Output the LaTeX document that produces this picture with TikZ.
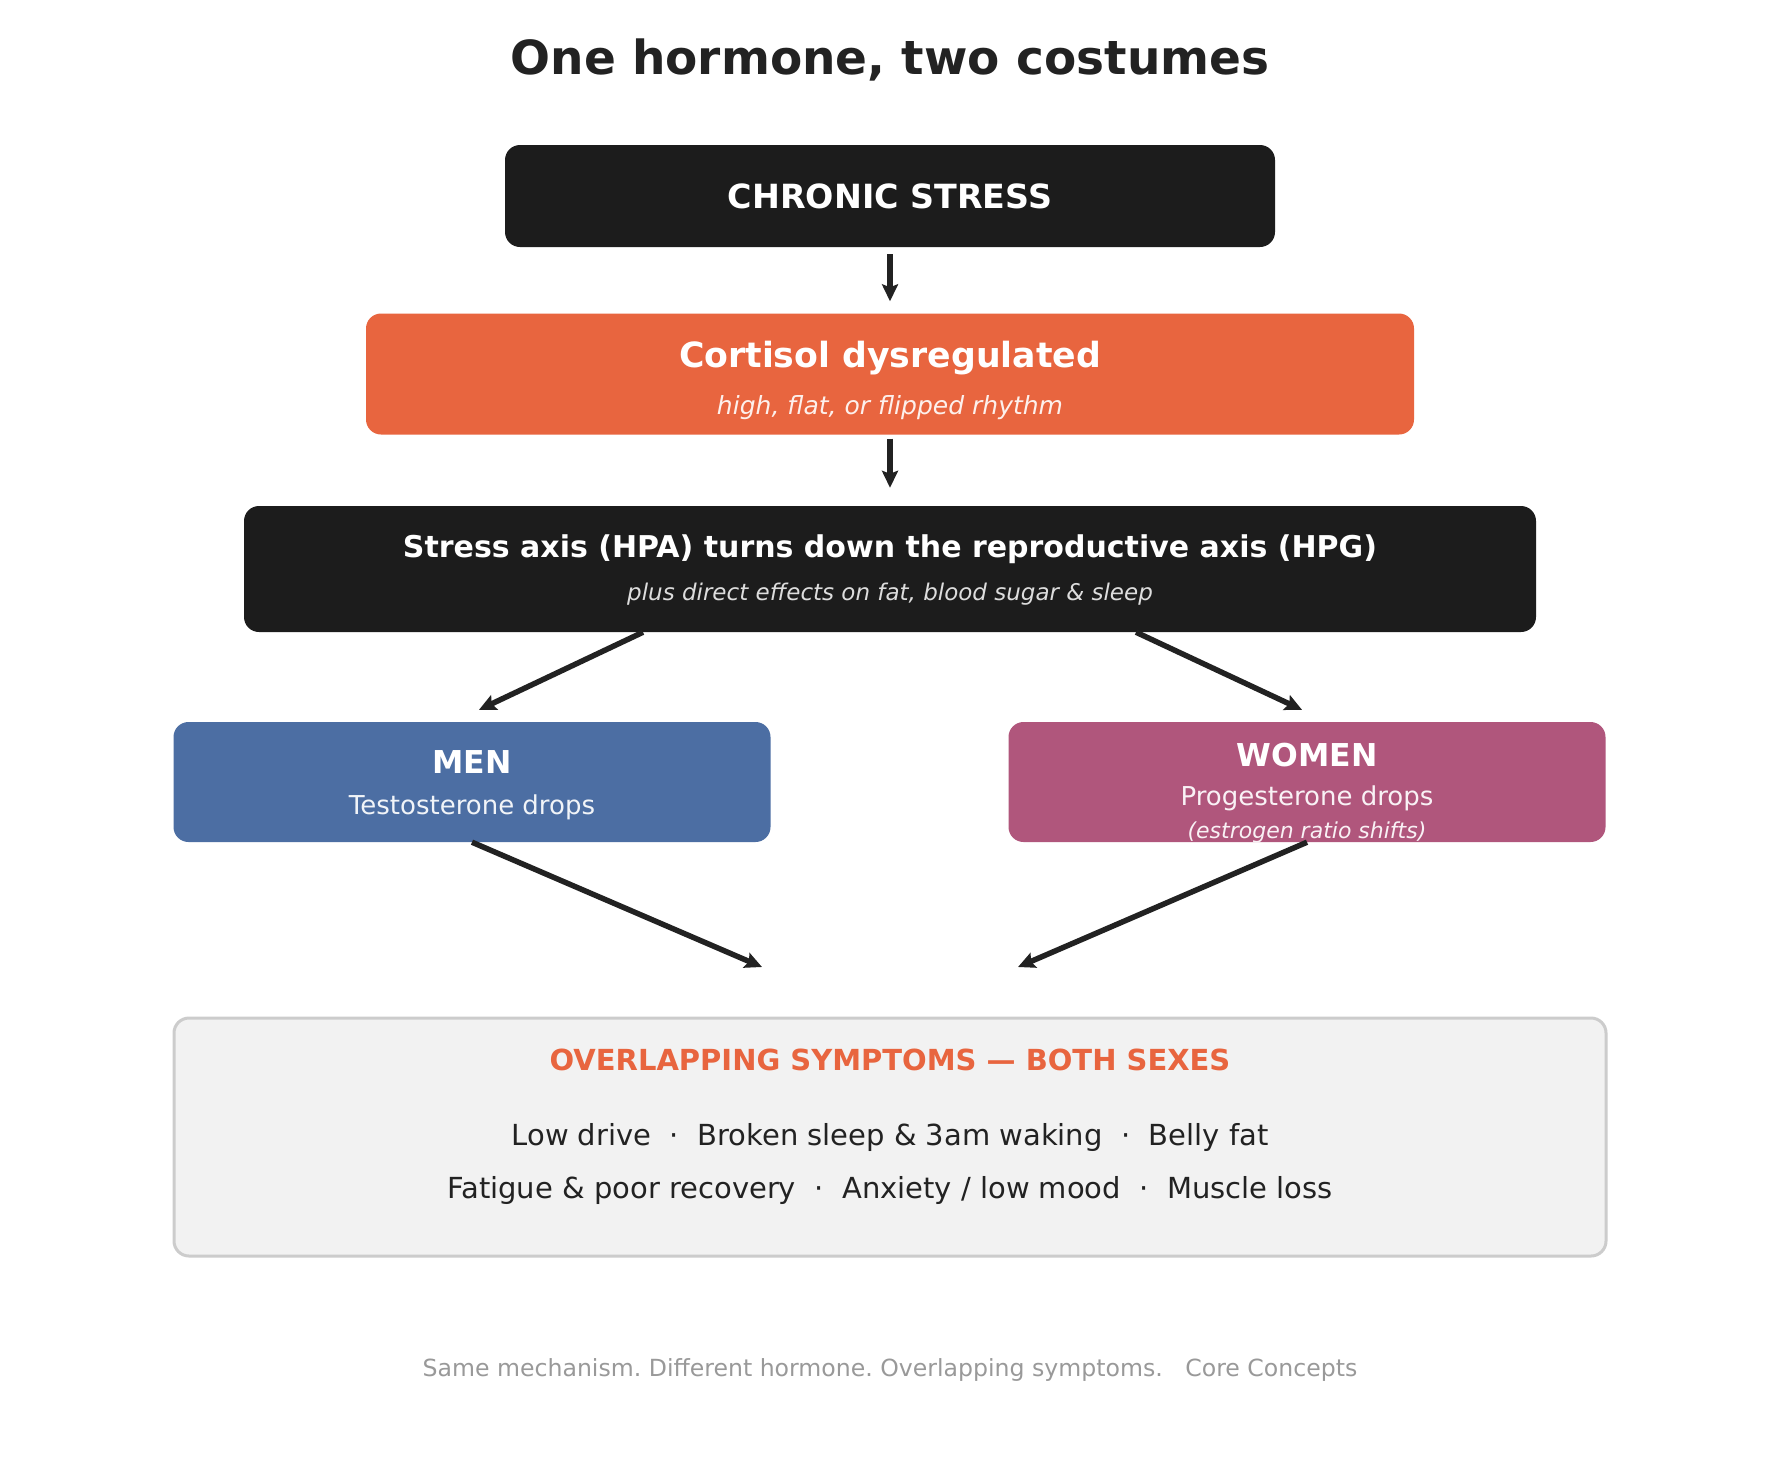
\documentclass[tikz,border=0pt]{standalone}
\usepackage{fontspec}
\setmainfont{DejaVu Sans}
\usetikzlibrary{arrows.meta,positioning}

\definecolor{inkblack}{HTML}{1C1C1C}
\definecolor{cortisolorange}{HTML}{E8653F}
\definecolor{menblue}{HTML}{4C6EA3}
\definecolor{womenpink}{HTML}{B0567C}
\definecolor{panelgrey}{HTML}{F2F2F2}
\definecolor{panelline}{HTML}{CCCCCC}
\definecolor{arrowgrey}{HTML}{222222}
\definecolor{footgrey}{HTML}{999999}

\newcommand{\fsize}[1]{\fontsize{#1}{#1}\selectfont}
\frenchspacing

\tikzset{
  box/.style={rounded corners=15pt, inner sep=0pt},
  txt/.style={anchor=base, inner sep=0pt},
  flow/.style={-{Stealth[length=17pt,width=16pt,inset=3pt]}, line width=5.5pt, draw=arrowgrey},
}

\begin{document}
\begin{tikzpicture}[x=1pt, y=-1pt]
    \useasboundingbox[fill=white] (0,0) rectangle (1779,1459);

    \node[txt, text=arrowgrey, font=\fsize{47}\bfseries] (title) at (890,74) {One hormone, two costumes};

    % boxes
    \node[box, fill=inkblack, minimum width=770pt, minimum height=102pt] (stress) at (890,196) {};
    \node[box, fill=cortisolorange, minimum width=1048pt, minimum height=121pt] (cortisol) at (890,374) {};
    \node[box, fill=inkblack, minimum width=1292pt, minimum height=126pt] (hpa) at (890,569) {};
    \node[box, fill=menblue, minimum width=597pt, minimum height=120pt] (men) at (472,782) {};
    \node[box, fill=womenpink, minimum width=597pt, minimum height=120pt] (women) at (1307,782) {};
    \node[box, fill=panelgrey, draw=panelline, line width=3pt, minimum width=1432pt, minimum height=238pt] (symptoms) at (890,1137) {};

    % box texts
    \node[txt, text=white, font=\fsize{33.3}\bfseries] (stresstxt) at (890,208) {CHRONIC STRESS};
    \node[txt, text=white, font=\fsize{34.7}\bfseries] (cortisoltxt) at (890,367) {Cortisol dysregulated};
    \node[txt, text=white!90!cortisolorange, font=\fsize{25}\itshape] (cortisolsub) at (890,414) {high, flat, or flipped rhythm};
    \node[txt, text=white, font=\fsize{30}\bfseries] (hpatxt) at (890,557) {Stress axis (HPA) turns down the reproductive axis (HPG)};
    \node[txt, text=white!85!inkblack, font=\fsize{23}\itshape] (hpasub) at (890,600) {plus direct effects on fat, blood sugar \& sleep};
    \node[txt, text=white, font=\fsize{31.5}\bfseries] (mentxt) at (472,773) {MEN};
    \node[txt, text=white!92!menblue, font=\fsize{26}] (mensub) at (472,814) {Testosterone drops};
    \node[txt, text=white, font=\fsize{31.5}\bfseries] (womentxt) at (1307,766) {WOMEN};
    \node[txt, text=white!92!womenpink, font=\fsize{26}] (womensub) at (1307,805) {Progesterone drops};
    \node[txt, text=white!92!womenpink, font=\fsize{22}\itshape] (womennote) at (1307,838) {(estrogen ratio shifts)};
    \node[txt, text=cortisolorange, font=\fsize{29}\bfseries] (symptomshead) at (890,1070) {OVERLAPPING SYMPTOMS — BOTH SEXES};
    \node[txt, text=arrowgrey, font=\fsize{29}] (symptomsa) at (890,1145) {Low drive~~·~~Broken sleep \& 3am waking~~·~~Belly fat};
    \node[txt, text=arrowgrey, font=\fsize{29}] (symptomsb) at (890,1198) {Fatigue \& poor recovery~~·~~Anxiety / low mood~~·~~Muscle loss};

    \node[txt, text=footgrey, font=\fsize{23.6}] (footer) at (890,1376) {Same mechanism. Different hormone. Overlapping symptoms.~~~Core Concepts};

    % free ends above the symptoms panel
    \coordinate (menend) at (762,967);
    \coordinate (womenend) at (1018,967);

    \draw[flow, shorten <=7pt, shorten >=12pt] (stress) -- (cortisol);
    \draw[flow, shorten <=4pt, shorten >=18pt] (cortisol) -- (hpa);
    \draw[flow] ([xshift=-247pt]hpa.south) -- ([xshift=7pt,yshift=12pt]men.north);
    \draw[flow] ([xshift=246pt]hpa.south) -- ([xshift=-5pt,yshift=12pt]women.north);
    \draw[flow] (men.south) -- (menend);
    \draw[flow] (women.south) -- (womenend);
\end{tikzpicture}
\end{document}
